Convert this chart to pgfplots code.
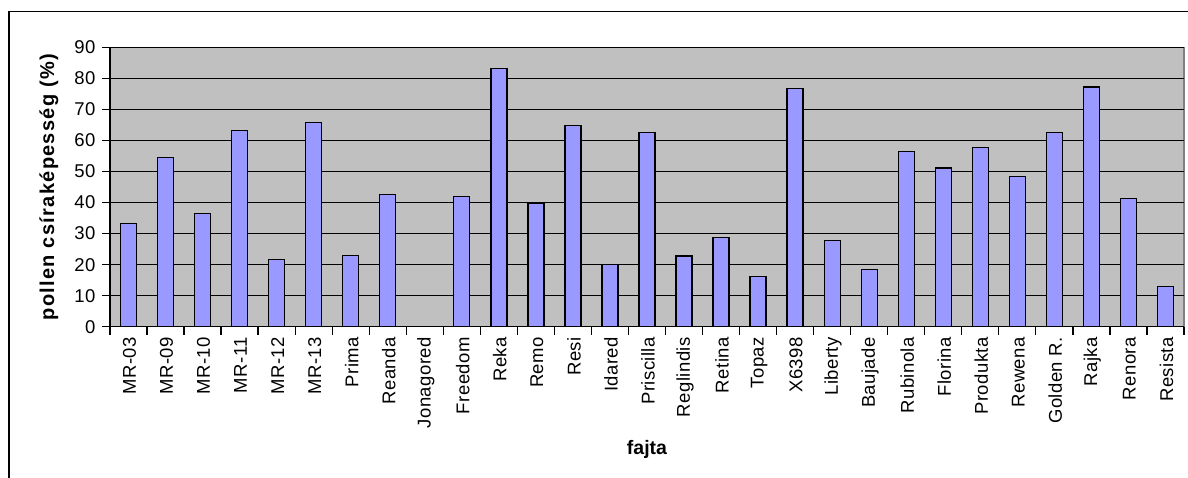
\documentclass[border=0pt]{standalone}
\usepackage{pgfplots}
\pgfplotsset{compat=1.18}
\usepackage{fontspec}
\setmainfont{Liberation Sans}
\newfontfamily\tickfont[LetterSpace=2.5]{Liberation Sans}
\newfontfamily\ylabfont[LetterSpace=6.5]{Liberation Sans}
\definecolor{barblue}{RGB}{153,153,255}
\definecolor{plotgray}{RGB}{192,192,192}
\definecolor{bordergray}{RGB}{128,128,128}
\begin{document}
\begin{tikzpicture}[x=1pt,y=1pt]
\begin{axis}[
  at={(110pt,151.3pt)}, anchor=south west,
  scale only axis, width=1074pt, height=279.2pt,
  xmin=-0.5, xmax=28.5, ymin=0, ymax=90,
  axis x line*=bottom, axis y line*=left,
  axis line style={black, line width=1.4pt, -},
  axis background/.style={fill=plotgray, draw=bordergray, line width=1.4pt},
  ytick={0,10,...,90},
  ymajorgrids, grid style={black, line width=1.3pt},
  xtick={-0.5,0.5,...,28.5},
  x tick label as interval,
  xticklabels={MR-03,MR-09,MR-10,MR-11,MR-12,MR-13,Prima,Reanda,Jonagored,Freedom,Reka,Remo,Resi,Idared,Priscilla,Reglindis,Retina,Topaz,X6398,Liberty,Baujade,Rubinola,Florina,Produkta,Rewena,Golden R.,Rajka,Renora,Resista},
  tick style={black, line width=1.3pt},
  tick align=outside, major tick length=8pt,
  xticklabel style={rotate=90, anchor=east, font=\tickfont\fontsize{18.5}{22}\selectfont, yshift=-1pt, xshift=1pt},
  yticklabel style={font=\tickfont\fontsize{18.5}{22}\selectfont, xshift=-3pt},
  /pgf/number format/assume math mode=true,
  ylabel={pollen csíraképesség (\%)},
  ylabel style={font=\ylabfont\fontsize{20}{24}\selectfont\bfseries, at={(axis description cs:0,0.5)}, anchor=center, rotate=0, yshift=61pt},
  xlabel={fajta},
  xlabel style={font=\fontsize{19.5}{23}\selectfont\bfseries, at={(axis description cs:0.5,0)}, anchor=center, yshift=-122.3pt},
  clip=false,
]
\addplot[ybar, bar width=16pt, fill=barblue, draw=black, line width=1.3pt] coordinates {
(0,33.2) (1,54.5) (2,36.4) (3,63.2) (4,21.7) (5,65.9) (6,22.9) (7,42.7) (8,0)
(9,41.9) (10,83.3) (11,39.8) (12,64.8) (13,20.1) (14,62.5) (15,22.8) (16,28.8)
(17,16.2) (18,76.7) (19,27.7) (20,18.4) (21,56.5) (22,51.2) (23,57.7) (24,48.5)
(25,62.5) (26,77.3) (27,41.3) (28,12.9)
};
\end{axis}
\draw[black, line width=1.4pt] (9,-20) -- (9,466.5) -- (1210,466.5);
\pgfresetboundingbox
\useasboundingbox (0,0) rectangle (1188,478);
\end{tikzpicture}
\end{document}
